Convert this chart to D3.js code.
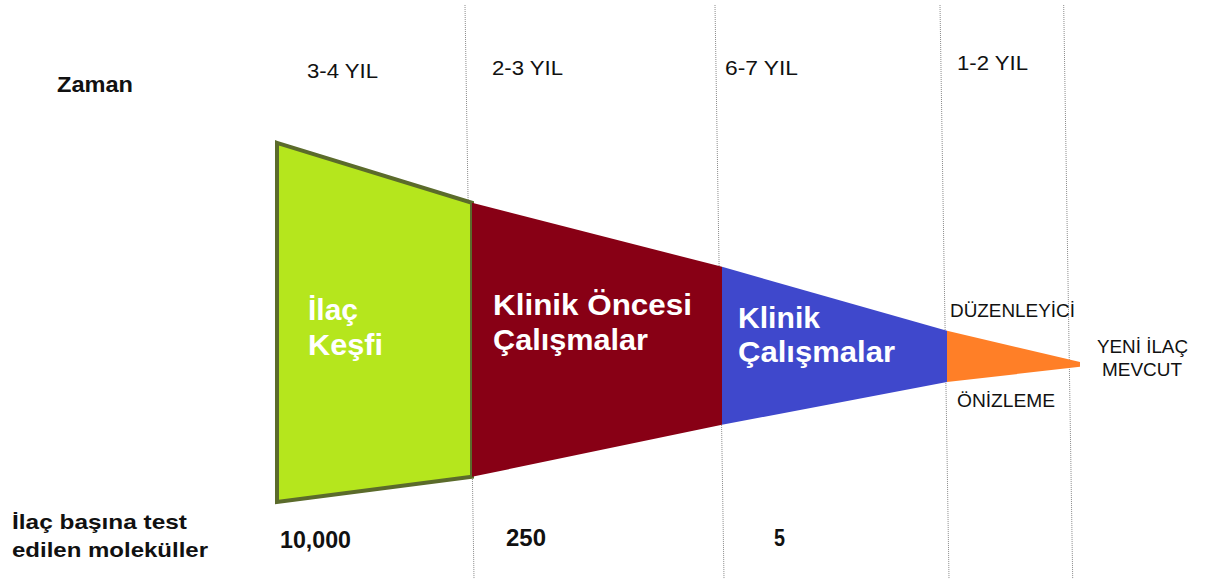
<!DOCTYPE html>
<html>
<head>
<meta charset="utf-8">
<script src="https://cdn.jsdelivr.net/npm/d3@7"></script>
<style>
  body { margin: 0; background: #fff; }
  svg { display: block; font-family: "Liberation Sans", Arial, sans-serif; }
</style>
</head>
<body>
<script>
// funnel stages, left to right
const stageLines = [["İlaç", "Keşfi"], ["Klinik Öncesi", "Çalışmalar"], ["Klinik", "Çalışmalar"], []];
const stageColors = ["#b5e61d", "#880015", "#3f48cc", "#ff7f27"];
const years = ["3-4 YIL", "2-3 YIL", "6-7 YIL", "1-2 YIL"];
const molecules = ["10,000", "250", "5"];

// funnel edges at each stage boundary (0 = bottom, 100 = top)
const boundaries = [0, 1, 2, 3, 4];
const upper = [94.3, 79.3, 63.3, 47.3, 39.5];
const lower = [4.5, 10.8, 23.8, 34.5, 38.3];
const dividers = [1, 2, 3, 3.93];

const width = 1213, height = 579;

const svg = d3.select("body").append("svg")
    .attr("width", width)
    .attr("height", height);

const x = d3.scaleLinear()
    .domain(boundaries)
    .range([277, 472, 722, 947, 1080]);

const y = d3.scaleLinear()
    .domain([0, 100])
    .range([520, 120]);

// dotted column dividers (slightly slanted as in the original)
svg.selectAll("line.divider")
    .data(dividers)
    .enter()
    .append("line")
    .attr("class", "divider")
    .attr("x1", d => x(d) - 7)
    .attr("y1", 5)
    .attr("x2", d => x(d) + 2)
    .attr("y2", height)
    .attr("stroke", "#8a8a8a")
    .attr("stroke-width", 1)
    .attr("stroke-dasharray", "1,1");

// funnel pieces
const stageData = stageColors.map((c, i) => ({
    i: i,
    color: c,
    pts: [
        [x(boundaries[i]), y(upper[i])],
        [x(boundaries[i + 1]), y(upper[i + 1])],
        [x(boundaries[i + 1]), y(lower[i + 1])],
        [x(boundaries[i]), y(lower[i])]
    ]
}));

svg.selectAll("polygon.stage")
    .data(stageData)
    .enter()
    .append("polygon")
    .attr("class", "stage")
    .attr("points", d => d.pts.map(p => p.join(",")).join(" "))
    .attr("fill", d => d.color)
    .attr("stroke", d => d.i === 0 ? "#5b6b2b" : "none")
    .attr("stroke-width", 4)
    .attr("stroke-linejoin", "miter");

// helper for text that must fill a given width
function label(txt, px, py, size, w, weight, color) {
    return svg.append("text")
        .attr("x", px)
        .attr("y", py)
        .attr("font-size", size)
        .attr("font-weight", weight || "normal")
        .attr("fill", color || "#111")
        .attr("textLength", w)
        .attr("lengthAdjust", "spacingAndGlyphs")
        .text(txt);
}

// stage names inside the funnel
const stageText = [
    { x: 308, y: [320, 355], w: [50, 75] },
    { x: 493, y: [315, 350], w: [199, 155] },
    { x: 738, y: [328, 362], w: [82, 157] }
];
stageText.forEach((t, i) => {
    stageLines[i].forEach((ln, j) => label(ln, t.x, t.y[j], 30, t.w[j], "bold", "#fff"));
});

// time row
label("Zaman", 57, 92, 22, 76, "bold");
const yearPos = [[307, 78, 71], [492, 75, 71], [725, 75, 73], [957, 70, 71]];
years.forEach((yr, i) => label(yr, yearPos[i][0], yearPos[i][1], 20, yearPos[i][2]));

// regulatory review + result
label("DÜZENLEYİCİ", 950, 317, 18, 125);
label("ÖNİZLEME", 957, 407, 18, 98);
label("YENİ İLAÇ", 1097, 353, 18, 91);
label("MEVCUT", 1102, 376, 18, 80);

// molecules row
label("İlaç başına test", 12, 529, 21, 175, "bold");
label("edilen moleküller", 12, 557, 21, 196, "bold");
const molPos = [[280, 548, 71], [506, 546, 40], [774, 546, 11]];
molecules.forEach((m, i) => label(m, molPos[i][0], molPos[i][1], 23, molPos[i][2], "bold"));
</script>
</body>
</html>
